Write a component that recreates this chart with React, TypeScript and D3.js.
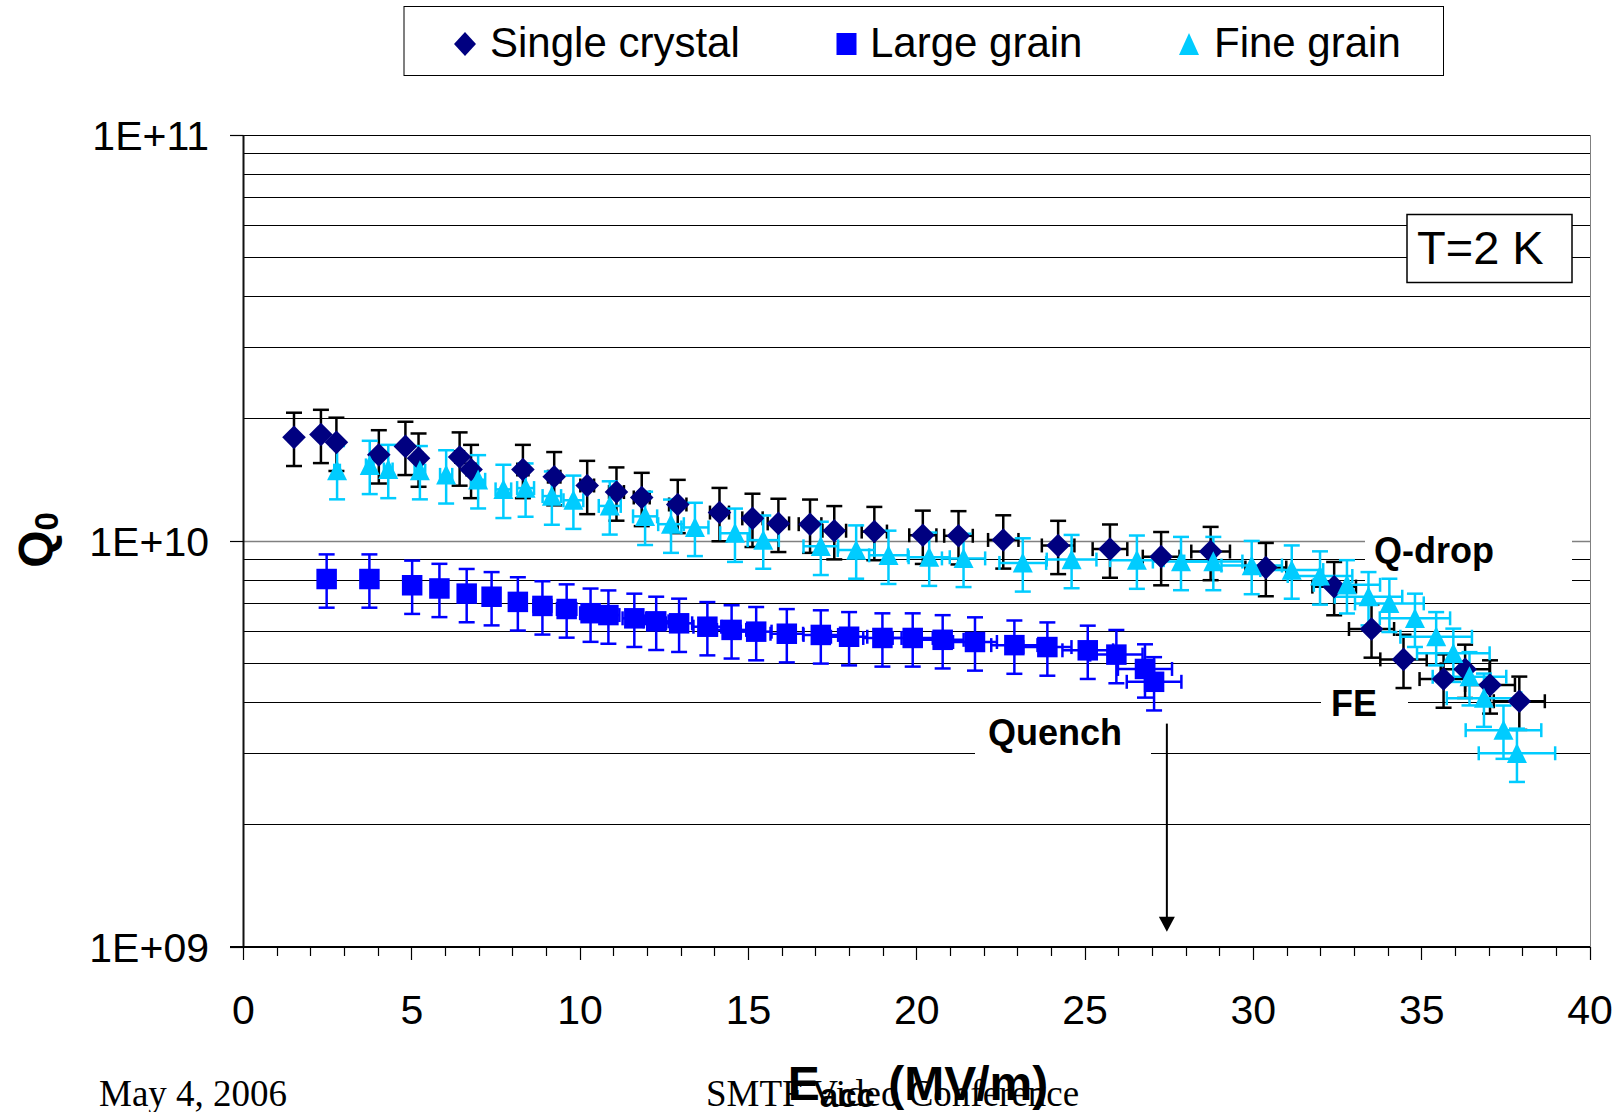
import React from 'react';
import * as d3 from 'd3';

// ---------- data ----------
const seriesNames = ['Single crystal', 'Large grain', 'Fine grain'];

const singleCrystal: [number, number][] = [
  [1.50, 1.80e10], [2.30, 1.83e10], [2.76, 1.75e10], [4.02, 1.63e10], [4.81, 1.71e10],
  [5.20, 1.60e10], [6.42, 1.61e10], [6.76, 1.50e10], [8.30, 1.50e10], [9.23, 1.44e10],
  [10.21, 1.37e10], [11.08, 1.32e10], [11.83, 1.28e10], [12.90, 1.23e10], [14.14, 1.175e10],
  [15.12, 1.137e10], [15.89, 1.105e10], [16.83, 1.10e10], [17.55, 1.06e10], [18.74, 1.055e10],
  [20.18, 1.033e10], [21.24, 1.03e10], [22.57, 1.006e10], [24.20, 9.75e9], [25.74, 9.55e9],
  [27.26, 9.15e9], [28.73, 9.42e9], [30.37, 8.60e9], [32.40, 7.72e9], [33.51, 6.07e9],
  [34.46, 5.11e9], [35.65, 4.57e9], [36.29, 4.83e9], [37.03, 4.42e9], [37.90, 4.03e9],
];

const largeGrain: [number, number][] = [
  [2.47, 8.06e9], [3.74, 8.06e9], [5.01, 7.78e9], [5.82, 7.64e9], [6.63, 7.42e9],
  [7.37, 7.29e9], [8.15, 7.08e9], [8.88, 6.92e9], [9.60, 6.80e9], [10.31, 6.64e9],
  [10.84, 6.57e9], [11.61, 6.45e9], [12.26, 6.34e9], [12.94, 6.27e9], [13.78, 6.15e9],
  [14.50, 6.04e9], [15.23, 5.98e9], [16.14, 5.91e9], [17.15, 5.87e9], [17.99, 5.81e9],
  [18.98, 5.77e9], [19.88, 5.77e9], [20.77, 5.71e9], [21.73, 5.64e9], [22.90, 5.54e9],
  [23.88, 5.48e9], [25.08, 5.38e9], [25.93, 5.25e9], [26.78, 4.84e9], [27.05, 4.50e9],
];

const fineGrain: [number, number][] = [
  [2.78, 1.49e10], [3.75, 1.535e10], [4.30, 1.50e10], [5.24, 1.49e10], [6.02, 1.455e10],
  [6.97, 1.415e10], [7.72, 1.34e10], [8.38, 1.35e10], [9.16, 1.29e10], [9.80, 1.26e10],
  [10.88, 1.22e10], [11.93, 1.15e10], [12.70, 1.10e10], [13.41, 1.08e10], [14.60, 1.045e10],
  [15.44, 1.005e10], [17.15, 9.70e9], [18.20, 9.50e9], [19.16, 9.22e9], [20.37, 9.12e9],
  [21.39, 9.06e9], [23.15, 8.83e9], [24.60, 9.00e9], [26.54, 8.97e9], [27.85, 8.90e9],
  [28.81, 8.90e9], [29.95, 8.70e9], [31.14, 8.48e9], [31.98, 8.20e9], [32.78, 7.80e9],
  [33.42, 7.29e9], [34.04, 7.02e9], [34.80, 6.45e9], [35.43, 5.81e9], [35.94, 5.29e9],
  [36.42, 4.63e9], [36.85, 4.10e9], [37.43, 3.42e9], [37.83, 3.00e9],
];

const xTickValues = [0, 5, 10, 15, 20, 25, 30, 35, 40];
const yTickValues = [1e9, 1e10, 1e11];
const yTickLabels = ['1E+09', '1E+10', '1E+11'];

// percentage error-bar settings (as configured in the chart)
const yErrPct = [0.15, 0.15, 0.15];
const xErrPct = [0.02, 0.03, 0.03];

// annotation arrow (in data units)
const arrowE = 27.43;
const arrowQ: [number, number] = [3.55e9, 1.09e9];

// ---------- layout ----------
const W = 1618;
const H = 1112;
const SANS = 'Liberation Sans, Arial, sans-serif';
const SERIF = 'Liberation Serif, Times New Roman, serif';

const colors = {
  sc: '#000080',
  scErr: '#000000',
  lg: '#0000FF',
  fg: '#00CCFF',
};

const x = d3.scaleLinear().domain([0, 40]).range([243.5, 1590]);
const y = d3.scaleLog().domain([1e9, 1e11]).range([947, 135]);

const snap = (v: number) => Math.round(v - 0.5) + 0.5;

function diamondPath(r: number) {
  return `M0,${-r}L${r},0L0,${r}L${-r},0Z`;
}
function trianglePath(w: number, h: number) {
  return `M0,${-h * 0.52}L${w / 2},${h * 0.48}L${-w / 2},${h * 0.48}Z`;
}

type Pt = [number, number];

function ErrorBars({ data, color, py, px }: { data: Pt[]; color: string; py: number; px: number }) {
  const sw = 2.5;
  return (
    <g stroke={color} strokeWidth={sw} fill="none">
      {data.map(([e, q], i) => {
        const cx = x(e);
        const cy = y(q);
        const yh = y(q * (1 + py));
        const yl = y(q * (1 - py));
        const xl = x(e * (1 - px));
        const xh = x(e * (1 + px));
        return (
          <g key={i}>
            <line x1={cx} x2={cx} y1={yh} y2={yl} />
            <line x1={cx - 8} x2={cx + 8} y1={yh} y2={yh} />
            <line x1={cx - 8} x2={cx + 8} y1={yl} y2={yl} />
            <line x1={xl} x2={xh} y1={cy} y2={cy} />
            <line x1={xl} x2={xl} y1={cy - 7} y2={cy + 7} />
            <line x1={xh} x2={xh} y1={cy - 7} y2={cy + 7} />
          </g>
        );
      })}
    </g>
  );
}

export default function App() {
  const gridVals: number[] = [];
  [1e9, 1e10].forEach((d) => {
    for (let k = 2; k <= 9; k++) gridVals.push(k * d);
  });
  const minorX = d3.range(0, 41, 1);

  const annotBoxes = [
    { x: 1365, y: 528, w: 207, h: 65, text: 'Q-drop', tx: 1374, ty: 563 },
    { x: 1321, y: 684, w: 87, h: 43, text: 'FE', tx: 1331, ty: 716 },
    { x: 975, y: 713, w: 176, h: 48, text: 'Quench', tx: 988, ty: 745 },
  ];

  const ax = x(arrowE);
  const ay0 = y(arrowQ[0]);
  const ay1 = y(arrowQ[1]);

  return (
    <svg
      width={W}
      height={H}
      viewBox={`0 0 ${W} ${H}`}
      style={{ position: 'absolute', left: 0, top: 0, background: '#fff' }}
    >
      <rect x={0} y={0} width={W} height={H} fill="#fff" />

      {/* gridlines */}
      <g>
        {gridVals.map((v, i) => (
          <line key={i} x1={x(0)} x2={x(40)} y1={snap(y(v))} y2={snap(y(v))} stroke="#000" strokeWidth={1} />
        ))}
        <line x1={x(0)} x2={x(40)} y1={snap(y(1e10))} y2={snap(y(1e10))} stroke="#808080" strokeWidth={1.5} />
        <line x1={x(0)} x2={x(40)} y1={snap(y(1e11))} y2={snap(y(1e11))} stroke="#000" strokeWidth={1} />
        <line x1={snap(x(40))} x2={snap(x(40))} y1={y(1e11)} y2={y(1e9)} stroke="#808080" strokeWidth={1} />
      </g>

      {/* annotation boxes (hide gridlines) */}
      {annotBoxes.map((b, i) => (
        <rect key={i} x={b.x} y={b.y} width={b.w} height={b.h} fill="#fff" />
      ))}

      {/* axes */}
      <g>
        <line x1={x(0)} x2={x(0)} y1={y(1e11)} y2={y(1e9)} stroke="#111" strokeWidth={2} />
        <line x1={230} x2={x(40)} y1={y(1e9)} y2={y(1e9)} stroke="#000" strokeWidth={2} />
        {yTickValues.map((v, i) => (
          <line key={i} x1={230} x2={x(0)} y1={snap(y(v))} y2={snap(y(v))} stroke="#000" strokeWidth={1.2} />
        ))}
        {minorX.map((v) => (
          <line
            key={v}
            x1={snap(x(v))}
            x2={snap(x(v))}
            y1={y(1e9)}
            y2={y(1e9) + (v % 5 === 0 ? 13 : 9)}
            stroke="#000"
            strokeWidth={1.2}
          />
        ))}
        {yTickValues.map((v, i) => (
          <text key={i} x={209} y={y(v) + 15} textAnchor="end" fontFamily={SANS} fontSize={41} fill="#000">
            {yTickLabels[i]}
          </text>
        ))}
        {xTickValues.map((v) => (
          <text key={v} x={x(v)} y={1024} textAnchor="middle" fontFamily={SANS} fontSize={41} fill="#000">
            {v}
          </text>
        ))}
      </g>

      {/* error bars (all series), then markers */}
      <ErrorBars data={singleCrystal} color={colors.scErr} py={yErrPct[0]} px={xErrPct[0]} />
      <ErrorBars data={largeGrain} color={colors.lg} py={yErrPct[1]} px={xErrPct[1]} />
      <ErrorBars data={fineGrain} color={colors.fg} py={yErrPct[2]} px={xErrPct[2]} />

      <g fill={colors.sc}>
        {singleCrystal.map(([e, q], i) => (
          <path key={i} d={diamondPath(11.8)} transform={`translate(${x(e)},${y(q)})`} />
        ))}
      </g>
      <g fill={colors.lg}>
        {largeGrain.map(([e, q], i) => (
          <rect key={i} x={x(e) - 10.25} y={y(q) - 10.25} width={20.5} height={20.5} />
        ))}
      </g>
      <g fill={colors.fg}>
        {fineGrain.map(([e, q], i) => (
          <path key={i} d={trianglePath(20, 20)} transform={`translate(${x(e)},${y(q)})`} />
        ))}
      </g>

      {/* annotations */}
      {annotBoxes.map((b, i) => (
        <text key={i} x={b.tx} y={b.ty} fontFamily={SANS} fontWeight="bold" fontSize={36} fill="#000">
          {b.text}
        </text>
      ))}
      <line x1={ax} x2={ax} y1={ay0} y2={ay1 - 14} stroke="#000" strokeWidth={2} />
      <path d={`M${ax},${ay1}L${ax - 8},${ay1 - 15}L${ax + 8},${ay1 - 15}Z`} fill="#000" />

      {/* T=2 K box */}
      <rect x={1407} y={214.5} width={165} height={68} fill="#fff" stroke="#000" strokeWidth={1.5} />
      <text x={1417} y={264} fontFamily={SANS} fontSize={47} fill="#000">
        T=2 K
      </text>

      {/* legend */}
      <rect x={404} y={6.5} width={1039.5} height={69} fill="#fff" stroke="#000" strokeWidth={1} />
      <path d="M465,32L476,44L465,56L454,44Z" fill={colors.sc} />
      <text x={490} y={57} fontFamily={SANS} fontSize={42} fill="#000">
        {seriesNames[0]}
      </text>
      <rect x={836.5} y={33} width={20} height={22} fill={colors.lg} />
      <text x={870} y={57} fontFamily={SANS} fontSize={42} fill="#000">
        {seriesNames[1]}
      </text>
      <path d="M1189,33L1199,55L1179,55Z" fill={colors.fg} />
      <text x={1214} y={57} fontFamily={SANS} fontSize={42} fill="#000">
        {seriesNames[2]}
      </text>

      {/* y axis title */}
      <text
        transform="translate(52,540) rotate(-90)"
        textAnchor="middle"
        fontFamily={SANS}
        fontWeight="bold"
        fontSize={48}
        fill="#000"
      >
        Q
        <tspan fontSize={33} dy={6}>
          0
        </tspan>
      </text>

      {/* footer */}
      <text x={99} y={1106} fontFamily={SERIF} fontSize={37} fill="#000">
        May 4, 2006
      </text>
      <text x={706} y={1106} fontFamily={SERIF} fontSize={37} fill="#000">
        SMTF Video Conference
      </text>

      {/* x axis title */}
      <text x={918} y={1100} textAnchor="middle" fontFamily={SANS} fontWeight="bold" fontSize={48} fill="#000">
        E
        <tspan fontSize={33} dy={7}>
          acc
        </tspan>
        <tspan fontSize={48} dy={-7}>
          {' (MV/m)'}
        </tspan>
      </text>
    </svg>
  );
}
